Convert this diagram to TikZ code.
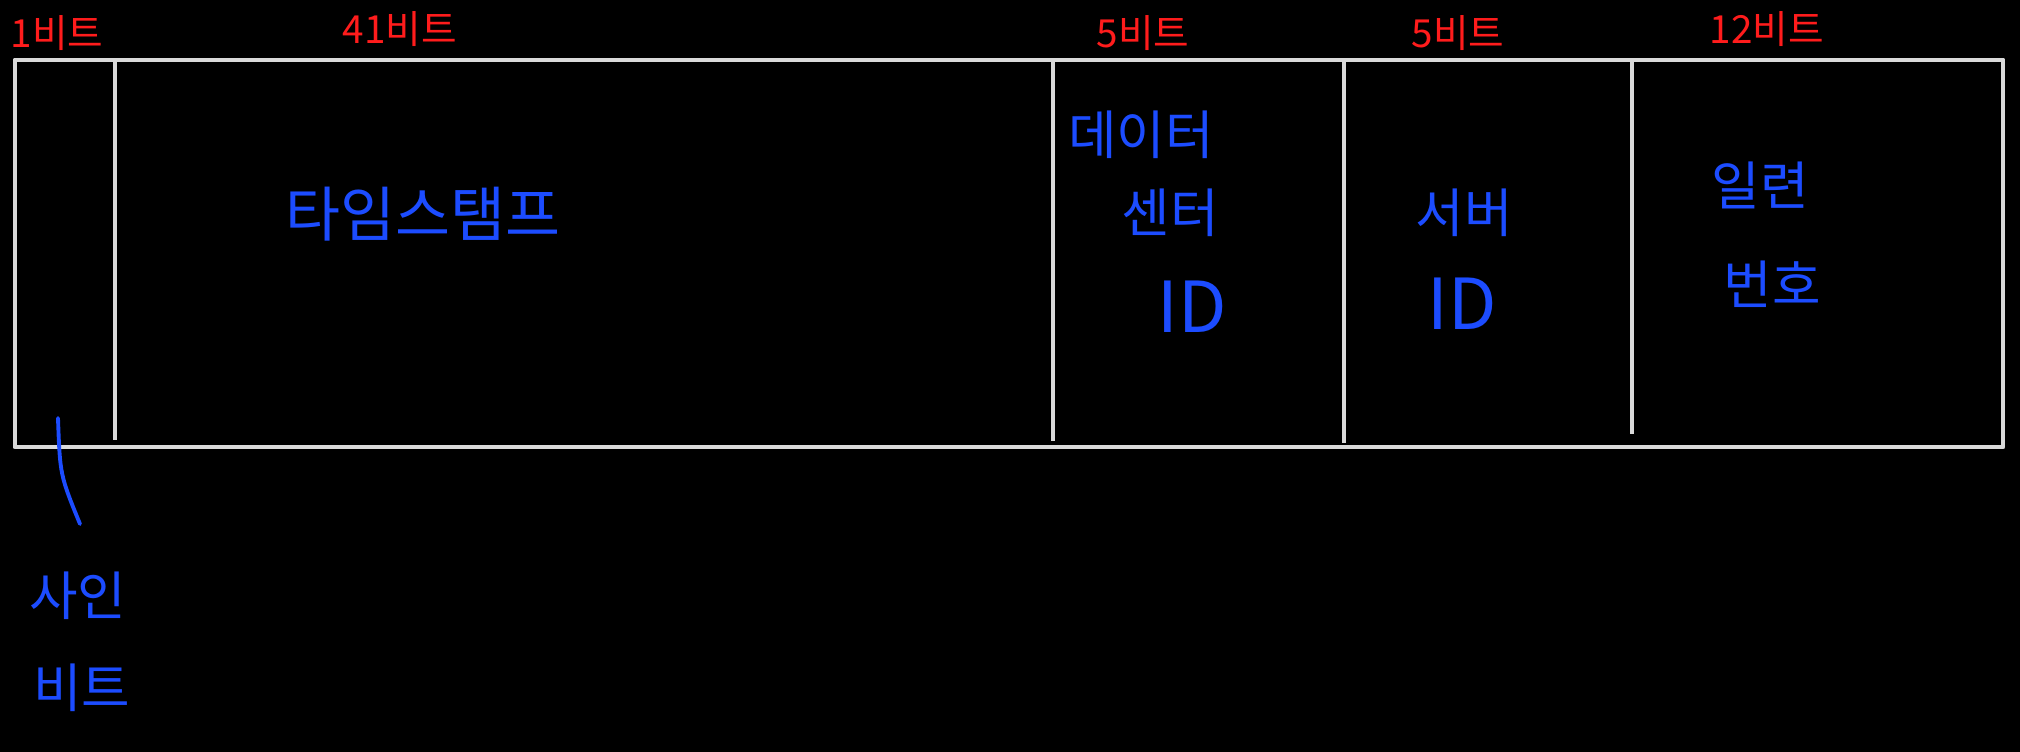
\documentclass[tikz,border=0pt]{standalone}
\usepackage{fontspec}
\usepackage{xcolor}
\usepackage{tikz}
\usetikzlibrary{arrows.meta,calc,positioning}
\newfontfamily\kofont{Noto Sans CJK KR}
\definecolor{penred}{RGB}{255,28,28}
\definecolor{penblue}{RGB}{28,76,255}
\definecolor{boxgray}{RGB}{218,218,218}

\begin{document}
\begin{tikzpicture}[x=0.01cm,y=-0.01cm,line join=round,
    bitlbl/.style={text=penred,font=\kofont\fontsize{11}{13}\selectfont,inner sep=0pt},
    fieldlbl/.style={text=penblue,font=\kofont\fontsize{15}{18}\selectfont,inner sep=0pt},
    idlbl/.style={text=penblue,font=\kofont\fontsize{20}{24}\selectfont,inner sep=0pt}]
    % ============ Canvas ============
    \useasboundingbox (0,0) rectangle (2020,752);
    \fill[black] (0,0) rectangle (2020,752);
    % ============ Field box ============
    \draw[boxgray,line width=1.4pt] (15,60) rectangle (2003,447);
    \foreach \xd/\yd in {115/440,1053/441,1344/443,1632/434}
      \draw[boxgray,line width=1.4pt] (\xd,60) -- (\xd,\yd);
    % ============ Bit widths ============
    \node[bitlbl] (b1)  at (57,33)   {1비트};
    \node[bitlbl] (b41) at (400,29)  {41비트};
    \node[bitlbl] (b5a) at (1143,33) {5비트};
    \node[bitlbl] (b5b) at (1458,33) {5비트};
    \node[bitlbl] (b12) at (1767,29) {12비트};
    % ============ Field names ============
    \node[fieldlbl,font=\kofont\fontsize{17}{20}\selectfont] (ts) at (423,214) {타임스탬프};
    \node[fieldlbl] (dc1) at (1141,135) {데이터};
    \node[fieldlbl] (dc2) at (1170,213) {센터};
    \node[idlbl]    (dc3) at (1192,307) {ID};
    \node[fieldlbl] (sv1) at (1464,213) {서버};
    \node[idlbl]    (sv2) at (1462,304) {ID};
    \node[fieldlbl] (sq1) at (1760,185) {일련};
    \node[fieldlbl] (sq2) at (1772,284) {번호};
    % ============ Sign bit ============
    \node[fieldlbl] (sg1) at (78,596) {사인};
    \node[fieldlbl] (sg2) at (82,688) {비트};
    \coordinate (sgtop) at (58,418);
    \coordinate (sgend) at (80,524);
    \draw[penblue,line width=1.1pt,line cap=round] (sgtop) .. controls (60,475) .. (sgend);
\end{tikzpicture}
\end{document}
